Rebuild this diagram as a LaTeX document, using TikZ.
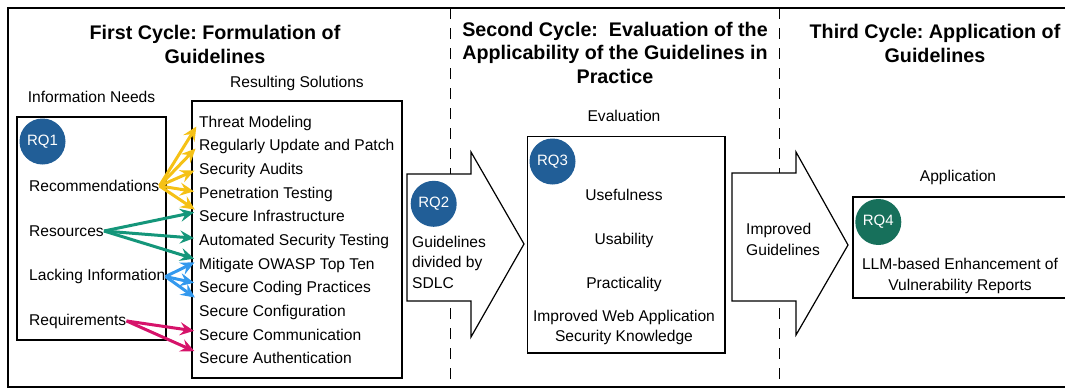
\documentclass[tikz,border=0pt]{standalone}
\usepackage{fontspec}
\setmainfont{Liberation Sans}
\usetikzlibrary{arrows.meta}
\definecolor{cyel}{HTML}{F5C116}
\definecolor{cgrn}{HTML}{14967A}
\definecolor{cblu}{HTML}{3399EE}
\definecolor{cpnk}{HTML}{D6136A}
\definecolor{rqblue}{HTML}{215E97}
\definecolor{rqgreen}{HTML}{17705B}
\frenchspacing
\tikzset{
  body/.style={font=\fontsize{15.6}{20.8}\selectfont, inner sep=0pt},
  ttl/.style={font=\fontsize{19.7}{23.5}\selectfont\bfseries, inner sep=0pt, align=center, anchor=north},
  frame/.style={draw, line width=1.3pt, inner sep=0pt},
  rq/.style={circle, fill=#1, minimum size=46pt, inner sep=0pt, text=white, font=\fontsize{15}{15}\selectfont},
  link/.style={line width=3pt, -{Stealth[length=14pt,width=13pt,inset=5pt]}, shorten >=5pt},
  blockarrow/.style={draw, line width=1.2pt, fill=white, line join=miter},
  divider/.style={line width=1pt, dash pattern=on 11pt off 9pt}
}
\begin{document}
\begin{tikzpicture}[x=1pt,y=-1pt]
\useasboundingbox (0,0) rectangle (1065,391);
% outer frame (open on the right, cropped)
\draw[line width=1.6pt] (1065,8) -- (8,8) -- (8,387) -- (1065,387);
% dividers
\draw[divider] (450,8) -- (450,387);
\draw[divider] (779,8) -- (779,387);

% titles
\node[ttl] (t1) at (215,25.2) {First Cycle: Formulation of\\Guidelines};
\node[ttl] (t2) at (615,21.9) {Second Cycle: \ Evaluation of the\\Applicability of the Guidelines in\\Practice};
\node[ttl] (t3) at (935,24.2) {Third Cycle: Application of\\Guidelines};

% first cycle
\node[body, anchor=base] (infolbl) at (91.5,102) {Information Needs};
\node[body, anchor=base] (sollbl) at (297,87.5) {Resulting Solutions};
\node[frame, minimum width=149pt, minimum height=223pt] (needs) at (91.5,228.5) {};
\node[frame, minimum width=210pt, minimum height=277pt] (sols) at (297,239.5) {};
\node[rq=rqblue] (rq1) at (42.5,141.5) {RQ1};

\node[body, anchor=base west] (rec) at (29,191.5) {Recommendations};
\node[body, anchor=base west] (res) at (29,236.3) {Resources};
\node[body, anchor=base west] (lack) at (29,280.6) {Lacking Information};
\node[body, anchor=base west] (req) at (29,325) {Requirements};

\node[body, anchor=base west] (s1) at (199,127.3) {Threat Modeling};
\node[body, anchor=base west] (s2) at (199,150.95) {Regularly Update and Patch};
\node[body, anchor=base west] (s3) at (199,174.6) {Security Audits};
\node[body, anchor=base west] (s4) at (199,198.25) {Penetration Testing};
\node[body, anchor=base west] (s5) at (199,221.9) {Secure Infrastructure};
\node[body, anchor=base west] (s6) at (199,245.55) {Automated Security Testing};
\node[body, anchor=base west] (s7) at (199,269.2) {Mitigate OWASP Top Ten};
\node[body, anchor=base west] (s8) at (199,292.85) {Secure Coding Practices};
\node[body, anchor=base west] (s9) at (199,316.5) {Secure Configuration};
\node[body, anchor=base west] (s10) at (199,340.15) {Secure Communication};
\node[body, anchor=base west] (s11) at (199,363.8) {Secure Authentication};

% links
\draw[link, cyel] (rec.east) -- ([yshift=1pt]s1.west);
\draw[link, cyel] (rec.east) -- ([yshift=2pt]s2.west);
\draw[link, cyel] (rec.east) -- ([yshift=2pt]s3.west);
\draw[link, cyel] (rec.east) -- ([yshift=2pt]s4.west);
\draw[link, cyel] (rec.east) -- ([yshift=4pt]s5.west);
\draw[link, cgrn] (res.east) -- ([yshift=5pt]s5.west);
\draw[link, cgrn] (res.east) -- ([yshift=3pt]s6.west);
\draw[link, cgrn] (res.east) -- ([yshift=5pt]s7.west);
\draw[link, cblu] (lack.east) -- ([yshift=5pt]s7.west);
\draw[link, cblu] (lack.east) -- ([yshift=5pt]s8.west);
\draw[link, cblu] (lack.east) -- ([yshift=12pt]s9.west);
\draw[link, cpnk] (req.east) -- ([yshift=3pt]s10.west);
\draw[link, cpnk] (req.east) -- ([yshift=5pt]s11.west);

% block arrow RQ2
\draw[blockarrow] (407,174) -- (471,174) -- (471,152) -- (524,244) -- (471,337) -- (471,301) -- (407,301) -- cycle;
\node[rq=rqblue] (rq2) at (433.7,203.8) {RQ2};
\node[body, align=left, anchor=north west] (guid) at (412,235.5) {Guidelines\\divided by\\SDLC};

% second cycle
\node[body, anchor=base] (evallbl) at (624,121.7) {Evaluation};
\node[frame, minimum width=197.3pt, minimum height=216.3pt] (evalbox) at (626.4,244.9) {};
\node[rq=rqblue] (rq3) at (552.5,161.5) {RQ3};
\node[body, anchor=base] (use) at (624,200.7) {Usefulness};
\node[body, anchor=base] (usab) at (624,244) {Usability};
\node[body, anchor=base] (prac) at (624,288.7) {Practicality};
\node[body, align=center, anchor=north] (know) at (624,309.5) {Improved Web Application\\Security Knowledge};

% block arrow improved guidelines
\draw[blockarrow] (732,173) -- (796,173) -- (796,152) -- (848,245) -- (796,335) -- (796,301) -- (732,301) -- cycle;
\node[body, align=left, anchor=north west] (impg) at (746,222.8) {Improved\\Guidelines};

% third cycle
\node[body, anchor=base] (applbl) at (958,181.5) {Application};
\draw[line width=1.3pt] (1065,197) -- (853,197) -- (853,298) -- (1065,298);
\node[rq=rqgreen] (rq4) at (878.3,222) {RQ4};
\node[body, align=center, anchor=north] (llm) at (960,258) {LLM-based Enhancement of\\Vulnerability Reports};
\end{tikzpicture}
\end{document}
